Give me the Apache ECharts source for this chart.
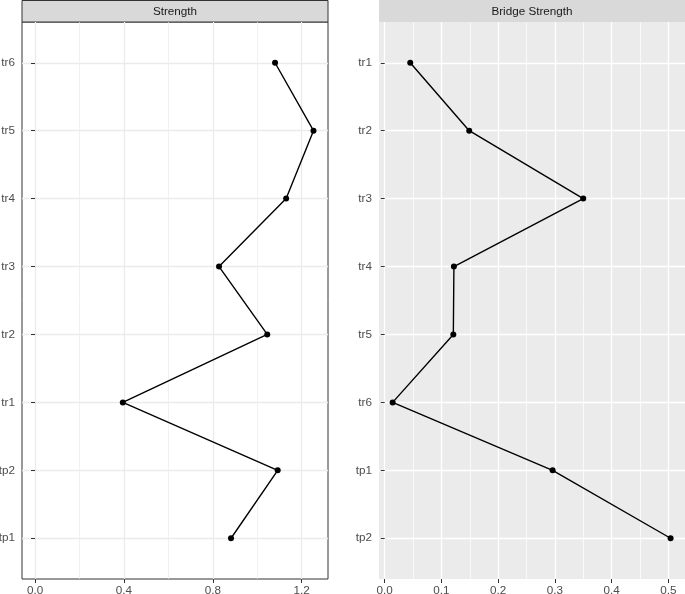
<!DOCTYPE html>
<html><head><meta charset="utf-8">
<script src="https://cdn.jsdelivr.net/npm/echarts@6/dist/echarts.min.js"></script>
<style>html,body{margin:0;padding:0;background:#fff}#c{width:685px;height:594px}</style>
</head><body><div id="c"></div>
<script>
// bottom to top order
const strengthLabels = ['tp1','tp2','tr1','tr2','tr3','tr4','tr5','tr6'];
const strengthValues = [0.882,1.092,0.395,1.045,0.828,1.13,1.253,1.08];
const bridgeLabels = ['tp2','tp1','tr6','tr5','tr4','tr3','tr2','tr1'];
const bridgeValues = [0.504,0.296,0.014,0.121,0.122,0.350,0.149,0.045];
const strengthTicks = [0,0.4,0.8,1.2];
const strengthMinor = [0.2,0.6,1.0];
const bridgeTicks = [0,0.1,0.2,0.3,0.4,0.5];
const bridgeMinor = [0.05,0.15,0.25,0.35,0.45];
const panelTitles = ['Strength','Bridge Strength'];
const positions = [1,2,3,4,5,6,7,8];

const FONT = 'Liberation Sans';
const chart = echarts.init(document.getElementById('c'), null, {renderer:'canvas'});

function yAxis(gi, labels){
  return {
    type:'value', gridIndex:gi, min:0.4, max:8.6,
    axisLine:{show:false},
    axisTick:{show:true, length:4, lineStyle:{color:'#333', width:1}, customValues:positions},
    axisLabel:{customValues:positions, margin:7, color:'#4D4D4D', fontSize:11.7, fontFamily:FONT,
      formatter:v=>labels[Math.round(v)-1]},
    splitLine:{show:true, lineStyle:{color: gi===0?'#EBEBEB':'#FFFFFF', width:1.3}}
  };
}
function xAxis(gi, min, max, ticks){
  return {
    type:'value', gridIndex:gi, min:min, max:max,
    axisLine:{show:false},
    axisTick:{show:true, length:4, lineStyle:{color:'#333', width:1}, customValues:ticks},
    axisLabel:{customValues:ticks, margin:6, color:'#4D4D4D', fontSize:11.7, fontFamily:FONT,
      formatter:v=>v.toFixed(1)},
    splitLine:{show:true, lineStyle:{color: gi===0?'#EBEBEB':'#FFFFFF', width:1.3}}
  };
}
function minorSeries(gi, minor){
  return {
    type:'line', xAxisIndex:gi, yAxisIndex:gi, data:[], z:1, silent:true,
    markLine:{silent:true, symbol:['none','none'], label:{show:false}, animation:false,
      lineStyle:{type:'solid', color: gi===0?'#EBEBEB':'#FFFFFF', width:0.7},
      data: minor.map(v=>({xAxis:v}))}
  };
}
function dataSeries(gi, values){
  return {
    type:'line', xAxisIndex:gi, yAxisIndex:gi, z:5,
    data: values.map((v,i)=>[v, positions[i]]),
    symbol:'circle', symbolSize:6, showSymbol:true,
    itemStyle:{color:'#000'}, lineStyle:{color:'#000', width:1.4}, animation:false
  };
}

chart.setOption({
  animation:false,
  backgroundColor:'#fff',
  grid:[
    {left:22, top:22, width:306, height:557, outerBoundsMode:'none', containLabel:false, show:true, backgroundColor:'#fff', borderColor:'#333', borderWidth:1},
    {left:379, top:22, width:306, height:557, outerBoundsMode:'none', containLabel:false, show:true, backgroundColor:'#EBEBEB', borderWidth:0}
  ],
  xAxis:[ xAxis(0, -0.0585, 1.3183, strengthTicks), xAxis(1, -0.01005, 0.5294, bridgeTicks) ],
  yAxis:[ yAxis(0, strengthLabels), yAxis(1, bridgeLabels) ],
  series:[ minorSeries(0, strengthMinor), minorSeries(1, bridgeMinor), dataSeries(0, strengthValues), dataSeries(1, bridgeValues) ],
  graphic:[
    {type:'rect', shape:{x:22, y:0.5, width:306, height:21.5}, style:{fill:'#D9D9D9', stroke:'#333', lineWidth:1}},
    {type:'text', x:175, y:11.5, style:{text:panelTitles[0], fill:'#1A1A1A', font:'11.7px "Liberation Sans"', align:'center', verticalAlign:'middle'}},
    {type:'rect', shape:{x:379, y:0, width:306, height:22}, style:{fill:'#D9D9D9'}},
    {type:'text', x:532, y:11.5, style:{text:panelTitles[1], fill:'#1A1A1A', font:'11.7px "Liberation Sans"', align:'center', verticalAlign:'middle'}}
  ]
});
</script></body></html>
